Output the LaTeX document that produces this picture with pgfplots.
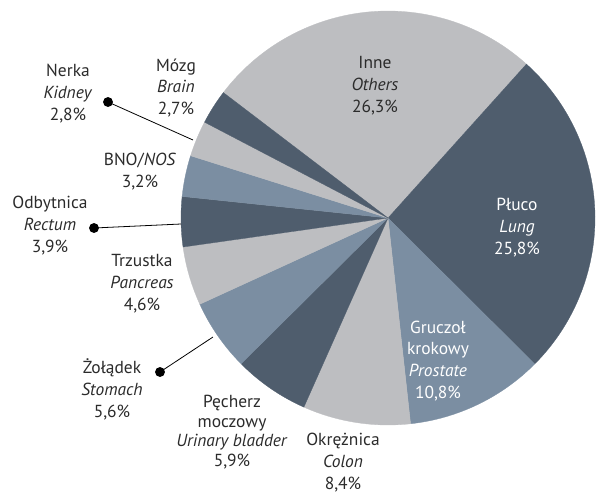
\documentclass[border=0pt]{standalone}
\usepackage{pgfplots}
\pgfplotsset{compat=1.18}
\usepackage{fontspec}
\setmainfont{PT Sans}

\definecolor{dark}{HTML}{4F5D6D}
\definecolor{medium}{HTML}{7B8EA2}
\definecolor{light}{HTML}{BDBEC1}
\definecolor{txt}{HTML}{2B2B2B}

\begin{document}
\begin{tikzpicture}
\begin{axis}[
    x=1bp, y=1bp,
    xmin=0, xmax=596, ymin=0, ymax=494,
    y dir=reverse,
    hide axis, clip=false,
    anchor=south west, at={(0,0)},
]
% slices, clockwise from "Others" (share in %)
\pgfmathsetmacro{\start}{142.7}
\foreach \v/\c in {26.3/light, 25.8/dark, 10.8/medium, 8.4/light, 5.9/dark,
                   5.6/medium, 4.6/light, 3.9/dark, 3.2/medium, 2.8/light, 2.7/dark}{
  \pgfmathsetmacro{\stop}{\start-3.6*\v}
  \edef\temp{\noexpand\fill[\c, draw=\c, line width=0.3pt] (axis cs:388,218) -- ++(\start:207bp)
     arc[start angle=\start, end angle=\stop, radius=207bp] -- cycle;}
  \temp
  \global\let\start\stop
}

% leader lines
\addplot[black, line width=0.8pt, mark=*, mark size=4.5bp, mark indices={1}] coordinates {(108,102) (193,140)};
\addplot[black, line width=0.8pt, mark=*, mark size=4.5bp, mark indices={1}] coordinates {(94,228) (181,224)};
\addplot[black, line width=0.8pt, mark=*, mark size=4.5bp, mark indices={1}] coordinates {(160,372) (213,337)};

\tikzset{lab/.style={align=center, text=txt, font=\fontsize{17.5}{22}\selectfont}}
\node[lab] at (axis cs:375,86) {Inne\\\textit{Others}\\26,3\%};
\node[lab, text=white] at (axis cs:517,228) {Płuco\\\textit{Lung}\\25,8\%};
\node[lab, text=white] at (axis cs:438,361) {Gruczoł\\krokowy\\\textit{Prostate}\\10,8\%};
\node[lab] at (axis cs:343,463) {Okrężnica\\\textit{Colon}\\8,4\%};
\node[lab, font=\fontsize{17.5}{19.5}\selectfont] at (axis cs:232,432) {Pęcherz\\moczowy\\\textit{Urinary bladder}\\5,9\%};
\node[lab] at (axis cs:112,389) {Żołądek\\\textit{Stomach}\\5,6\%};
\node[lab] at (axis cs:142,284) {Trzustka\\\textit{Pancreas}\\4,6\%};
\node[lab] at (axis cs:50,226) {Odbytnica\\\textit{Rectum}\\3,9\%};
\node[lab] at (axis cs:140,172) {BNO/\textit{NOS}\\3,2\%};
\node[lab] at (axis cs:68,94) {Nerka\\\textit{Kidney}\\2,8\%};
\node[lab] at (axis cs:176,88) {Mózg\\\textit{Brain}\\2,7\%};
\end{axis}
\pgfresetboundingbox
\useasboundingbox (0,0) rectangle (596bp,494bp);
\end{tikzpicture}
\end{document}
